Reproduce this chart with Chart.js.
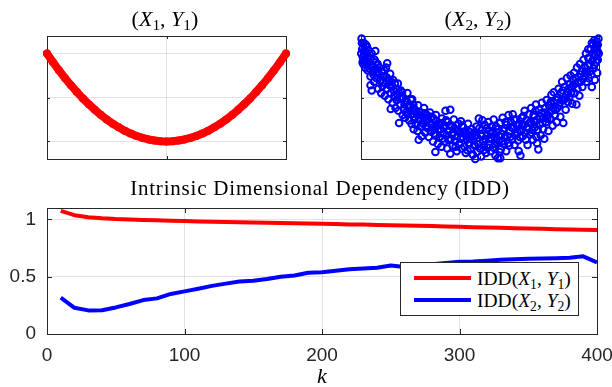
<!DOCTYPE html>
<html>
<head>
<meta charset="utf-8">
<script src="https://cdn.jsdelivr.net/npm/chart.js@4.4.0/dist/chart.umd.min.js"></script>
<style>
  html, body { margin: 0; padding: 0; background: #fff; overflow: hidden; }
  #wrap { position: relative; width: 612px; height: 387px; background: #fff; }
  canvas { position: absolute; }
  .tex { position: absolute; font-family: "Liberation Serif", "Times New Roman", serif; color: #000; white-space: nowrap; line-height: 1; }
  .tex sub { font-size: 0.7em; vertical-align: -0.28em; line-height: 0; }
  .ctr { transform: translateX(-50%); }
  #legend { position: absolute; left: 400px; top: 262px; width: 177px; height: 52px; border: 1px solid #262626; background: #fff; }
  #legend .sw { position: absolute; left: 13px; width: 57px; height: 4px; }
  #legend .tex { left: 76px; font-size: 19.5px; }
</style>
</head>
<body>
<div id="wrap">
  <canvas id="c1" width="300" height="170" style="left:0;top:0;width:300px;height:170px"></canvas>
  <canvas id="c2" width="300" height="170" style="left:312px;top:0;width:300px;height:170px"></canvas>
  <canvas id="c3" width="612" height="217" style="left:0;top:170px;width:612px;height:217px"></canvas>

  <div class="tex ctr" style="left:165px;top:8px;font-size:22px">(<i>X</i><sub>1</sub>, <i>Y</i><sub>1</sub>)</div>
  <div class="tex ctr" style="left:478px;top:8px;font-size:22px">(<i>X</i><sub>2</sub>, <i>Y</i><sub>2</sub>)</div>
  <div class="tex ctr" style="left:320px;top:178px;font-size:21px;letter-spacing:0.8px">Intrinsic Dimensional Dependency (IDD)</div>
  <div class="tex ctr" style="left:322px;top:365px;font-size:22px"><i>k</i></div>

  <div id="legend">
    <div class="sw" style="top:13px;background:#ff0000"></div>
    <div class="tex" style="top:6px">IDD(<i>X</i><sub>1</sub>, <i>Y</i><sub>1</sub>)</div>
    <div class="sw" style="top:35px;background:#0000ff"></div>
    <div class="tex" style="top:28px">IDD(<i>X</i><sub>2</sub>, <i>Y</i><sub>2</sub>)</div>
  </div>
</div>

<script>
// top left: (X1, Y1), clean parabola
const redX = [-1, -0.95, -0.9, -0.85, -0.8, -0.75, -0.7, -0.65, -0.6, -0.55, -0.5, -0.45, -0.4, -0.35, -0.3, -0.25, -0.2, -0.15, -0.1, -0.05,
  0, 0.05, 0.1, 0.15, 0.2, 0.25, 0.3, 0.35, 0.4, 0.45, 0.5, 0.55, 0.6, 0.65, 0.7, 0.75, 0.8, 0.85, 0.9, 0.95, 1];
const redY = [1, 0.9025, 0.81, 0.7225, 0.64, 0.5625, 0.49, 0.4225, 0.36, 0.3025, 0.25, 0.2025, 0.16, 0.1225, 0.09, 0.0625, 0.04, 0.0225, 0.01, 0.0025,
  0, 0.0025, 0.01, 0.0225, 0.04, 0.0625, 0.09, 0.1225, 0.16, 0.2025, 0.25, 0.3025, 0.36, 0.4225, 0.49, 0.5625, 0.64, 0.7225, 0.81, 0.9025, 1];

// top right: (X2, Y2), noisy parabola
const bluePts = [
  [-0.995,1.17],[-0.99,1.05],[-0.985,0.96],[-0.98,0.88],[-0.975,1.12],[-0.97,0.99],[-0.965,0.84],[-0.96,1.02],[-0.955,0.93],[-0.95,1.08],[-0.945,0.81],[-0.94,0.97],
  [-0.93,0.9],[-0.92,0.74],[-0.92,0.64],[-0.915,0.86],[-0.91,1.0],[-0.91,0.58],[-0.9,0.79],[-0.89,0.68],[-0.885,0.93],[-0.88,1.03],[-0.88,0.82],[-0.87,0.72],[-0.86,0.88],[-0.855,0.6],[-0.85,0.77],
  [-0.84,0.69],[-0.83,0.55],[-0.825,0.8],[-0.82,0.63],[-0.81,0.74],[-0.8,0.52],[-0.795,0.66],[-0.78,0.89],[-0.79,0.84],[-0.78,0.6],[-0.775,0.71],[-0.77,0.48],[-0.76,0.64],[-0.755,0.77],[-0.75,0.55],[-0.75,0.37],
  [-0.74,0.62],[-0.735,0.44],[-0.73,0.7],[-0.72,0.52],[-0.71,0.38],[-0.705,0.6],[-0.7,0.47],[-0.69,0.66],[-0.685,0.35],[-0.68,0.55],[-0.68,0.21],[-0.67,0.42],[-0.665,0.58],[-0.66,0.49],[-0.65,0.3],
  [-0.645,0.5],[-0.64,0.37],[-0.63,0.27],[-0.625,0.45],[-0.62,0.33],[-0.61,0.55],[-0.6,0.4],[-0.595,0.24],[-0.59,0.35],[-0.58,0.47],[-0.575,0.2],[-0.57,0.31],[-0.57,0.48],[-0.56,0.42],[-0.557,0.14],[-0.555,0.28],
  [-0.545,0.36],[-0.54,0.19],[-0.53,0.3],[-0.525,0.12],[-0.52,0.41],[-0.515,0.02],[-0.51,0.25],[-0.5,0.17],[-0.495,0.33],[-0.49,0.06],[-0.48,0.28],[-0.475,0.2],[-0.47,0.38],[-0.46,0.1],[-0.455,0.24],
  [-0.445,0.3],[-0.44,0.15],[-0.43,0.05],[-0.425,0.22],[-0.42,0.33],[-0.41,0.11],[-0.4,0.19],[-0.395,0.0],[-0.39,0.26],[-0.38,0.14],[-0.375,-0.12],[-0.375,0.07],[-0.37,0.3],[-0.36,0.18],[-0.355,-0.03],
  [-0.345,0.2],[-0.34,0.05],[-0.33,0.14],[-0.325,-0.06],[-0.32,0.26],[-0.31,0.09],[-0.3,0.0],[-0.295,0.18],[-0.29,0.35],[-0.28,0.07],[-0.275,-0.08],[-0.27,0.22],[-0.26,0.12],[-0.25,0.36],[-0.25,-0.14],
  [-0.245,0.03],[-0.24,0.17],[-0.23,-0.05],[-0.225,0.1],[-0.22,0.25],[-0.21,0.0],[-0.2,0.13],[-0.195,-0.11],[-0.19,0.06],[-0.18,0.2],[-0.175,-0.03],[-0.17,0.1],[-0.16,0.23],[-0.155,-0.08],
  [-0.145,0.05],[-0.14,0.16],[-0.13,-0.06],[-0.125,0.09],[-0.12,-0.13],[-0.11,0.02],[-0.1,0.2],[-0.095,-0.02],[-0.09,0.11],[-0.08,-0.09],[-0.075,0.06],[-0.07,0.14],[-0.06,-0.15],[-0.055,0.01],
  [-0.045,0.1],[-0.04,-0.05],[-0.04,-0.2],[-0.03,0.17],[-0.025,-0.12],[-0.02,0.04],[-0.01,0.26],[0.0,-0.08],[0.005,0.08],[0.01,-0.17],[0.02,0.13],[0.02,0.24],[0.025,0.0],[0.03,-0.1],[0.04,0.19],[0.045,0.03],
  [0.05,-0.13],[0.06,0.07],[0.07,0.22],[0.075,-0.04],[0.08,0.12],[0.09,-0.11],[0.095,0.03],[0.1,0.17],[0.11,-0.07],[0.115,0.25],[0.12,0.05],[0.13,-0.16],[0.14,0.1],[0.145,-0.02],[0.15,-0.19],
  [0.155,0.14],[0.16,0.0],[0.17,0.21],[0.17,-0.19],[0.175,-0.09],[0.18,0.08],[0.19,0.27],[0.2,-0.03],[0.205,0.15],[0.21,0.04],[0.22,-0.11],[0.225,0.19],[0.23,0.06],[0.24,0.3],[0.245,-0.05],
  [0.25,0.12],[0.26,0.22],[0.27,0.02],[0.275,0.31],[0.28,0.15],[0.29,-0.04],[0.3,0.09],[0.305,0.25],[0.31,0.18],[0.32,0.01],[0.325,-0.11],[0.33,0.2],[0.34,-0.16],[0.345,0.12],
  [0.35,0.27],[0.36,0.06],[0.37,0.19],[0.375,0.35],[0.38,0.1],[0.39,0.24],[0.4,-0.04],[0.405,0.15],[0.41,0.31],[0.42,0.08],[0.425,0.22],[0.43,0.38],[0.44,0.13],[0.445,0.02],
  [0.45,0.3],[0.46,0.16],[0.47,0.42],[0.475,0.05],[0.48,0.25],[0.48,-0.02],[0.49,-0.09],[0.495,0.36],[0.5,0.19],[0.51,0.07],[0.515,0.32],[0.52,0.44],[0.53,0.14],[0.535,0.27],[0.54,0.03],[0.55,0.38],
  [0.555,0.22],[0.56,0.47],[0.57,0.3],[0.575,0.12],[0.58,0.41],[0.59,0.26],[0.6,0.53],[0.605,0.35],[0.61,0.18],[0.62,0.44],[0.62,0.56],[0.63,0.3],[0.64,0.47],[0.645,0.22],
  [0.65,0.38],[0.66,0.6],[0.67,0.44],[0.675,0.28],[0.68,0.55],[0.69,0.68],[0.7,0.21],[0.705,0.47],[0.71,0.62],[0.72,0.36],[0.725,0.53],[0.73,0.72],[0.74,0.45],[0.745,0.6],
  [0.75,0.5],[0.76,0.75],[0.77,0.62],[0.775,0.43],[0.78,0.7],[0.79,0.78],[0.795,0.55],[0.8,0.66],[0.81,0.42],[0.815,0.84],[0.82,0.6],[0.83,0.73],[0.835,0.52],[0.84,0.88],[0.85,0.68],
  [0.855,0.8],[0.86,0.62],[0.87,0.93],[0.875,0.74],[0.88,0.85],[0.89,1.0],[0.895,0.68],[0.9,0.79],[0.91,0.95],[0.915,0.72],[0.92,0.88],[0.93,1.05],[0.935,0.76],[0.94,0.62],[0.945,0.92],
  [0.95,1.1],[0.955,0.83],[0.96,0.98],[0.965,0.7],[0.97,1.08],[0.975,0.9],[0.98,1.14],[0.985,0.78],[0.99,1.02],[0.995,1.17],[0.99,0.93],
  // denser core of the band
  [-0.998,1.0],[-0.992,1.12],[-0.987,0.9],[-0.978,1.03],[-0.968,0.92],[-0.958,1.1],[-0.948,0.89],[-0.938,1.04],[-0.928,0.83],[-0.918,0.95],
  [-0.905,0.87],[-0.895,0.76],[-0.875,0.9],[-0.865,0.79],[-0.845,0.84],[-0.835,0.7],[-0.815,0.67],[-0.805,0.81],[-0.785,0.73],[-0.765,0.69],
  [-0.745,0.68],[-0.725,0.58],[-0.715,0.66],[-0.695,0.54],[-0.675,0.49],[-0.655,0.56],[-0.635,0.42],[-0.615,0.46],[-0.605,0.31],[-0.585,0.4],
  [-0.565,0.36],[-0.55,0.25],[-0.535,0.33],[-0.505,0.3],[-0.485,0.21],[-0.465,0.32],[-0.45,0.18],[-0.435,0.26],[-0.415,0.2],[-0.405,0.28],
  [-0.385,0.09],[-0.365,0.23],[-0.35,0.13],[-0.335,0.21],[-0.315,0.03],[-0.305,0.15],[-0.285,0.24],[-0.265,0.02],[-0.255,0.18],[-0.235,0.08],
  [-0.215,0.15],[-0.205,-0.06],[-0.185,0.12],[-0.165,0.03],[-0.15,0.18],[-0.135,0.11],[-0.115,0.07],[-0.105,-0.1],[-0.085,0.03],[-0.065,0.08],
  [-0.05,-0.04],[-0.035,0.07],[-0.015,-0.03],[-0.005,0.15],[0.015,0.06],[0.035,-0.05],[0.055,0.15],[0.065,-0.07],[0.085,0.04],[0.105,0.09],
  [0.125,-0.03],[0.135,0.17],[0.16,0.06],[0.165,-0.12],[0.185,0.0],[0.195,0.12],[0.215,0.22],[0.235,-0.02],[0.255,0.05],[0.265,0.16],
  [0.285,0.25],[0.295,0.07],[0.315,0.1],[0.335,0.05],[0.355,0.18],[0.365,0.29],[0.385,0.02],[0.395,0.16],[0.415,0.21],[0.435,0.1],
  [0.455,0.22],[0.465,0.35],[0.485,0.13],[0.505,0.28],[0.525,0.21],[0.545,0.33],[0.565,0.26],[0.585,0.34],[0.595,0.45],[0.615,0.38],
  [0.635,0.36],[0.655,0.5],[0.665,0.41],[0.685,0.47],[0.695,0.58],[0.715,0.5],[0.735,0.56],[0.755,0.65],[0.765,0.55],[0.785,0.64],
  [0.805,0.72],[0.825,0.68],[0.845,0.76],[0.865,0.71],[0.885,0.78],[0.905,0.86],[0.925,0.8],[0.945,1.0],[0.96,0.87],[0.97,0.97],
  [0.98,1.05],[0.99,1.1],[0.998,1.0],[0.94,1.12],[0.96,1.15],[0.91,1.05]
];

// bottom: IDD vs k
const kVals = [10, 20, 30, 40, 50, 60, 70, 80, 90, 100, 110, 120, 130, 140, 150, 160, 170, 180, 190, 200,
  210, 220, 230, 240, 250, 260, 270, 280, 290, 300, 310, 320, 330, 340, 350, 360, 370, 380, 390, 400];
const idd1 = [1.075, 1.037, 1.02, 1.01, 1.003, 0.999, 0.996, 0.992, 0.989, 0.986, 0.983, 0.98, 0.977, 0.975, 0.973, 0.971, 0.968, 0.966, 0.964, 0.962,
  0.96, 0.957, 0.955, 0.952, 0.95, 0.948, 0.945, 0.942, 0.939, 0.936, 0.933, 0.93, 0.927, 0.924, 0.921, 0.918, 0.915, 0.912, 0.91, 0.907];
const idd2 = [0.317, 0.229, 0.206, 0.207, 0.232, 0.262, 0.296, 0.311, 0.35, 0.372, 0.395, 0.42, 0.44, 0.458, 0.465, 0.48, 0.5, 0.51, 0.535, 0.54,
  0.552, 0.565, 0.572, 0.578, 0.598, 0.585, 0.6, 0.61, 0.62, 0.63, 0.632, 0.64, 0.648, 0.652, 0.658, 0.66, 0.662, 0.665, 0.678, 0.625];

const topXTicks = [-1, 0, 1];
const topYTicks = [0, 0.5, 1];
const kTicks = [0, 100, 200, 300, 400];
const iddTicks = [0, 0.5, 1];

const AXIS = '#262626';
const GRID = 'rgba(38,38,38,0.13)';

// matlab style box with inward tick marks
const boxTicks = {
  id: 'boxTicks',
  beforeDatasetsDraw(chart, args, opts) {
    const { ctx, chartArea: a, scales: { x, y } } = chart;
    const len = opts.len || 4;
    ctx.save();
    ctx.strokeStyle = AXIS;
    ctx.lineWidth = 1;
    ctx.beginPath();
    x.ticks.forEach(t => {
      const px = Math.round(x.getPixelForValue(t.value)) + 0.5;
      ctx.moveTo(px, a.bottom); ctx.lineTo(px, a.bottom - len);
      ctx.moveTo(px, a.top); ctx.lineTo(px, a.top + len);
    });
    y.ticks.forEach(t => {
      const py = Math.round(y.getPixelForValue(t.value)) + 0.5;
      ctx.moveTo(a.left, py); ctx.lineTo(a.left + len, py);
      ctx.moveTo(a.right, py); ctx.lineTo(a.right - len, py);
    });
    ctx.stroke();
    ctx.strokeRect(Math.round(a.left) + 0.5, Math.round(a.top) + 0.5, Math.round(a.right - a.left), Math.round(a.bottom - a.top));
    ctx.restore();
  }
};

function fixedTicks(list) {
  return s => { s.ticks = list.map(v => ({ value: v })); };
}

function topScales() {
  return {
    x: {
      type: 'linear', min: -1, max: 1,
      afterBuildTicks: fixedTicks(topXTicks),
      ticks: { display: false },
      grid: { color: GRID, drawTicks: false },
      border: { display: false }
    },
    y: {
      type: 'linear', min: -0.2, max: 1.2,
      afterBuildTicks: fixedTicks(topYTicks),
      ticks: { display: false },
      grid: { color: GRID, drawTicks: false },
      border: { display: false }
    }
  };
}

const noChrome = { legend: { display: false }, tooltip: { enabled: false }, boxTicks: { len: 3 } };

new Chart(document.getElementById('c1'), {
  type: 'scatter',
  data: {
    datasets: [{
      data: redX.map((v, i) => ({ x: v, y: redY[i] })),
      showLine: true,
      borderColor: '#ff0000',
      borderWidth: 8,
      borderCapStyle: 'round',
      borderJoinStyle: 'round',
      pointRadius: 4,
      pointBorderWidth: 0,
      pointBackgroundColor: '#ff0000',
      clip: false
    }]
  },
  options: {
    responsive: false, animation: false,
    layout: { padding: { left: 47, right: 14, top: 36, bottom: 11 } },
    scales: topScales(),
    plugins: noChrome
  },
  plugins: [boxTicks]
});

new Chart(document.getElementById('c2'), {
  type: 'scatter',
  data: {
    datasets: [{
      data: bluePts.map(p => ({ x: p[0], y: p[1] })),
      pointRadius: 3.3,
      pointBorderWidth: 2,
      pointBorderColor: '#0000ff',
      pointBackgroundColor: 'rgba(0,0,0,0)',
      clip: false
    }]
  },
  options: {
    responsive: false, animation: false,
    layout: { padding: { left: 49, right: 13, top: 36, bottom: 11 } },
    scales: topScales(),
    plugins: noChrome
  },
  plugins: [boxTicks]
});

new Chart(document.getElementById('c3'), {
  type: 'line',
  data: {
    datasets: [
      { label: 'IDD(X1,Y1)', data: kVals.map((k, i) => ({ x: k, y: idd1[i] })), borderColor: '#ff0000', borderWidth: 4, pointRadius: 0, tension: 0, borderJoinStyle: 'round' },
      { label: 'IDD(X2,Y2)', data: kVals.map((k, i) => ({ x: k, y: idd2[i] })), borderColor: '#0000ff', borderWidth: 4, pointRadius: 0, tension: 0, borderJoinStyle: 'round' }
    ]
  },
  options: {
    responsive: false, animation: false,
    layout: { padding: { left: 0, right: 15, top: 38, bottom: 23 } },
    scales: {
      x: {
        type: 'linear', min: 0, max: 400,
        afterBuildTicks: fixedTicks(kTicks),
        afterFit: s => { s.height = 30; s.paddingLeft = 0; s.paddingRight = 0; },
        ticks: { color: AXIS, padding: 10, maxRotation: 0, font: { family: 'Liberation Sans', size: 19 } },
        grid: { color: GRID, drawTicks: false },
        border: { display: false }
      },
      y: {
        type: 'linear', min: 0, max: 1.1,
        afterBuildTicks: fixedTicks(iddTicks),
        afterFit: s => { s.width = 47; s.paddingTop = 0; s.paddingBottom = 0; },
        ticks: { color: AXIS, padding: 11, font: { family: 'Liberation Sans', size: 19 }, callback: v => String(v) },
        grid: { color: GRID, drawTicks: false },
        border: { display: false }
      }
    },
    plugins: { legend: { display: false }, tooltip: { enabled: false }, boxTicks: { len: 5 } }
  },
  plugins: [boxTicks]
});
</script>
</body>
</html>
